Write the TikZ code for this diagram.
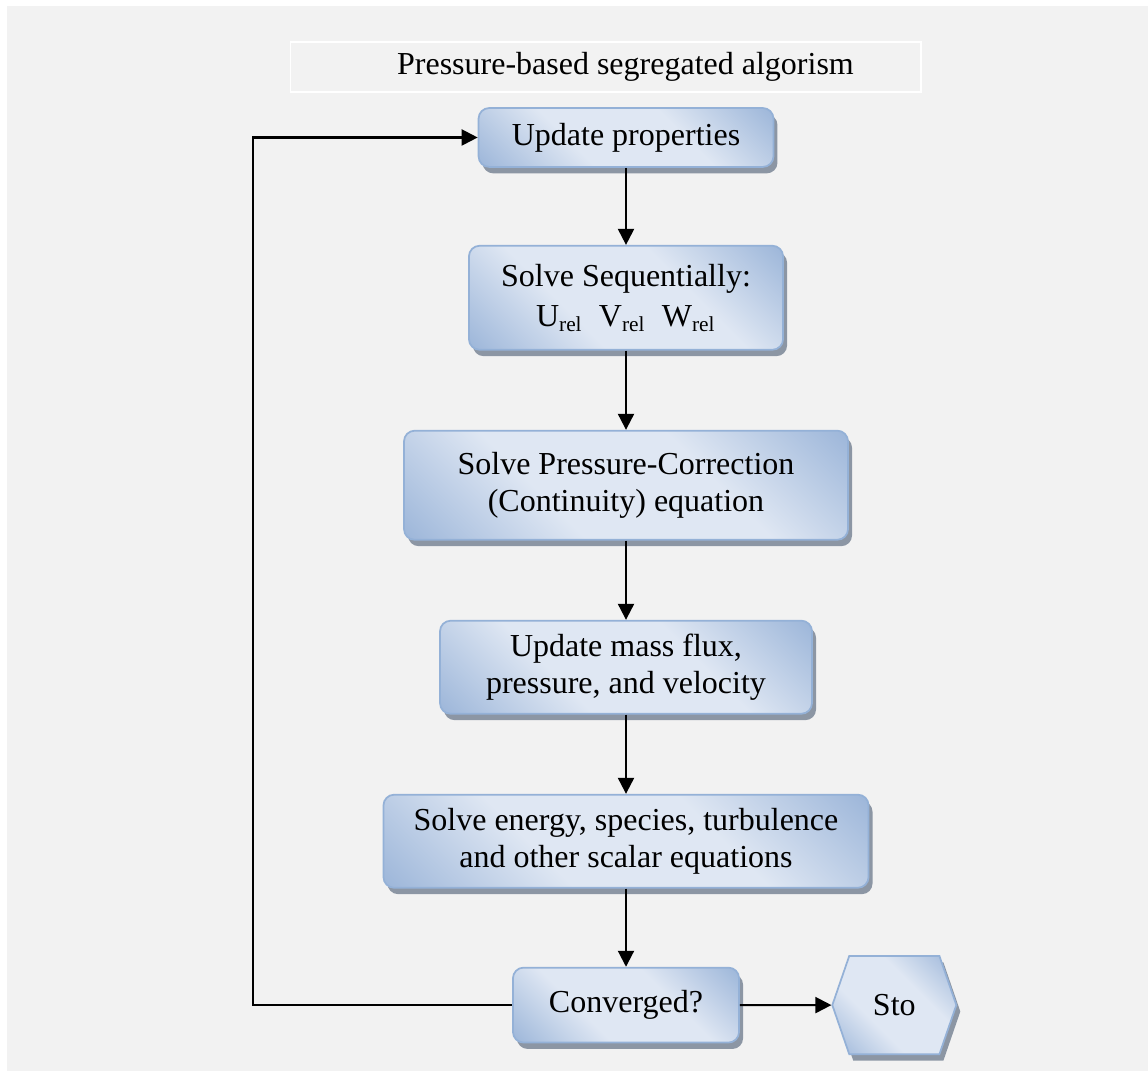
\documentclass[tikz,border=0pt]{standalone}
\usepackage{fontspec}
\setmainfont{Liberation Serif}
\usepackage{tikz}
\usetikzlibrary{arrows.meta, positioning, shapes.symbols, shadows}

\definecolor{boxdark}{RGB}{143,172,212}
\definecolor{boxlight}{RGB}{223,231,243}
\definecolor{boxline}{RGB}{148,177,215}
\definecolor{shadegray}{RGB}{140,150,164}
\definecolor{paper}{RGB}{242,242,242}

\pgfdeclareverticalshading{stepshade}{100bp}{color(0bp)=(boxdark); color(10bp)=(boxdark);
    color(38bp)=(boxlight); color(62bp)=(boxlight); color(90bp)=(boxdark); color(100bp)=(boxdark)}

\begin{document}
\begin{tikzpicture}[x=0.375pt,y=-0.375pt,>={Triangle[length=6pt,width=6pt]},
        every node/.style={font=\fontsize{12}{14}\selectfont},
        stepbox/.style={draw=boxline, line width=0.65pt, rounded corners=4pt, align=center,
            shade, shading=stepshade, shading angle=-45,
            drop shadow={shadow xshift=1.5pt, shadow yshift=-2.4pt, fill=shadegray, opacity=1}},
        flow/.style={->, line width=0.8pt}]

      % page
      \fill[white] (0,0) rectangle (1148,1071);
      \fill[paper] (7,6) rectangle (1148,1071);

      \node[draw=white, line width=0.4pt, minimum width=236.6pt, minimum height=18.75pt] (title) at (605.5,67) {\hspace{15pt}Pressure-based segregated algorism};

      \node[stepbox, minimum width=110.6pt, minimum height=22.1pt] (upd) at (626,137.5) {Update properties};
      \node[stepbox, minimum width=117.8pt, minimum height=39pt, below=28.9pt of upd] (seq)
            {Solve Sequentially:\\[1pt] U\textsubscript{rel}\ \ V\textsubscript{rel}\ \ W\textsubscript{rel}};
      \node[stepbox, minimum width=166.5pt, minimum height=40.9pt, below=29.7pt of seq] (pc)
            {Solve Pressure-Correction\\(Continuity) equation};
      \node[stepbox, minimum width=139.5pt, minimum height=34.9pt, below=29.7pt of pc] (flux)
            {Update mass flux,\\pressure, and velocity};
      \node[stepbox, minimum width=181.9pt, minimum height=34.9pt, below=29.7pt of flux] (scal)
            {Solve energy, species, turbulence\\and other scalar equations};
      \node[stepbox, minimum width=84.8pt, minimum height=28.1pt, below=29.3pt of scal] (conv) {Converged?};
      \node[stepbox, sharp corners, signal, signal to=west and east, signal pointer angle=142,
            minimum width=46.5pt, minimum height=36.8pt, inner sep=1pt, right=34.3pt of conv] (stop) {Sto};

      \coordinate (back) at (253,0);

      \path[flow] (upd) edge (seq)
                  (seq) edge (pc)
                  (pc) edge (flux)
                  (flux) edge (scal)
                  (scal) edge (conv)
                  (conv) edge (stop);
      \draw[flow] (conv.west) -- (conv.west -| back) |- (upd.west);
    \end{tikzpicture}
\end{document}
